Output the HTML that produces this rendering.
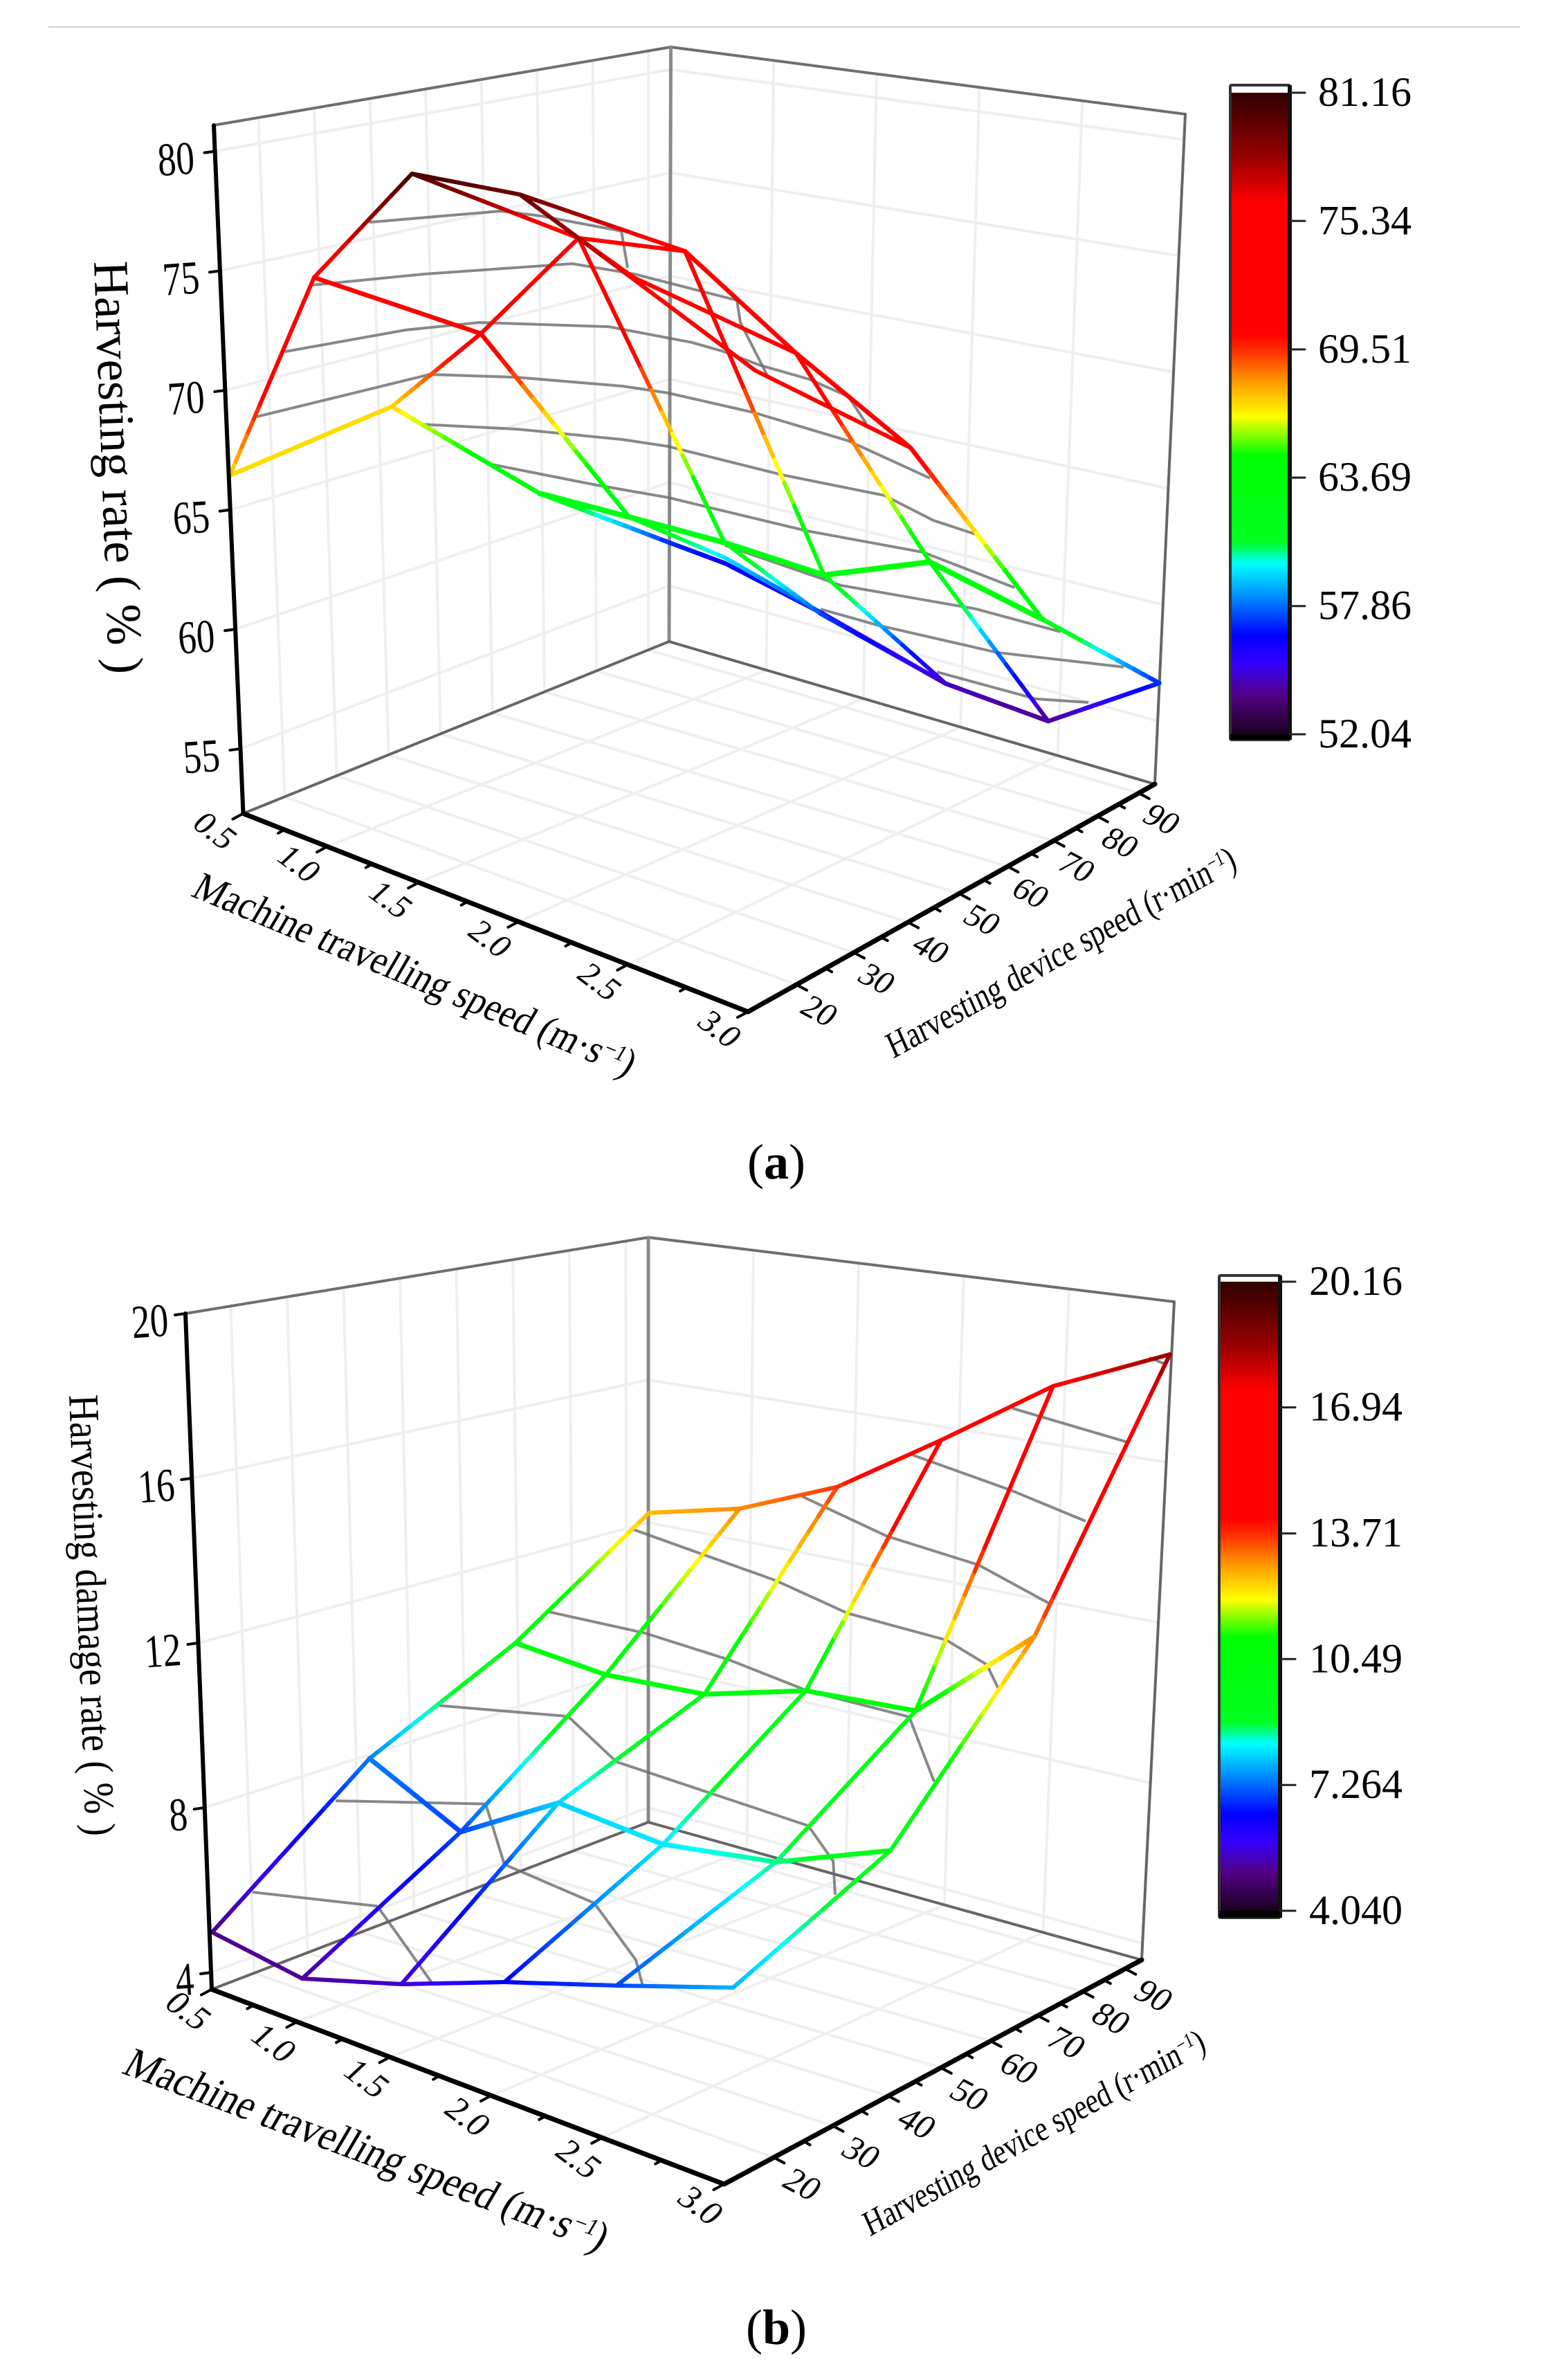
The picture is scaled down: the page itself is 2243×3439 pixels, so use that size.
<!DOCTYPE html>
<html lang="en">
<head>
<meta charset="utf-8">
<title>Harvesting rate and harvesting damage rate response surfaces</title>
<style>
html,body{margin:0;padding:0;background:#fff}
svg{display:block}
text{font-family:"Liberation Serif",serif;fill:#000}
</style>
</head>
<body>
<svg id="figure" xmlns="http://www.w3.org/2000/svg" width="2243" height="3439" viewBox="0 0 2243 3439">
  <rect x="0" y="0" width="2243" height="3439" fill="#fff"/>
  <line x1="70" y1="39" x2="2197" y2="39" stroke="#cfcfcf" stroke-width="2"/>
  <g id="chart-a"></g>
  <g id="chart-b"></g>

  <text transform="translate(136 378) rotate(87.9)" font-size="72" textLength="597" lengthAdjust="spacingAndGlyphs">Harvesting rate ( % )</text>
  <text transform="matrix(.924 .383 -.5 .85 274 1294)" font-size="60" textLength="684" lengthAdjust="spacingAndGlyphs">Machine travelling speed (m·s<tspan dy="-18" font-size="34">−1</tspan><tspan dy="18">)</tspan></text>
  <text transform="matrix(.875 -.484 .4 .9 1291 1530)" font-size="54" textLength="570" lengthAdjust="spacingAndGlyphs">Harvesting device speed (r·min<tspan dy="-16" font-size="30">−1</tspan><tspan dy="16">)</tspan></text>
  <text x="1122" y="1703" font-size="72" text-anchor="middle">(<tspan font-weight="bold">a</tspan>)</text>

  <text transform="translate(100 2016) rotate(87.8)" font-size="62" textLength="638" lengthAdjust="spacingAndGlyphs">Harvesting damage rate ( % )</text>
  <text transform="matrix(.937 .35 -.5 .85 174 2995)" font-size="64" textLength="738" lengthAdjust="spacingAndGlyphs">Machine travelling speed (m·s<tspan dy="-19" font-size="36">−1</tspan><tspan dy="19">)</tspan></text>
  <text transform="matrix(.875 -.484 .4 .9 1257 3232)" font-size="52" textLength="558" lengthAdjust="spacingAndGlyphs">Harvesting device speed (r·min<tspan dy="-16" font-size="30">−1</tspan><tspan dy="16">)</tspan></text>
  <text x="1122" y="3387" font-size="72" text-anchor="middle">(<tspan font-weight="bold">b</tspan>)</text>
</svg>

<script>
// ---- shared axis data ----
const speedTicks = [0.5, 1, 1.5, 2, 2.5, 3];
const speedTickLabels = ['0.5', '1.0', '1.5', '2.0', '2.5', '3.0'];
const speedMinorTicks = [0.75, 1.25, 1.75, 2.25, 2.75];
const deviceTicks = [20, 30, 40, 50, 60, 70, 80, 90];
const deviceTickLabels = ['20', '30', '40', '50', '60', '70', '80', '90'];
const deviceMinorTicks = [25, 35, 45, 55, 65, 75, 85];

// ---- chart (a): harvesting rate ----
const aRateTicks = [55, 60, 65, 70, 75, 80];
const aRateTickLabels = ['55', '60', '65', '70', '75', '80'];
const aColorbarValues = [81.16, 75.34, 69.51, 63.69, 57.86, 52.04];
const aColorbarLabels = ['81.16', '75.34', '69.51', '63.69', '57.86', '52.04'];

const aWireSpeed = [
  [0.851, 0.804, 1.017, 1.461, 2.126],
  [1.189, 1.384, 1.661],
  [2.126, 2.586, 3.084],
  [1.094, 1.691, 1.736, 2.126],
  [1.487, 2.18, 2.126],
  [2.093, 2.546, 2.586],
  [0.43, 0.492, 0.851],
  [0.553, 0.915, 1.189],
  [0.492, 0.915, 1.094],
  [0.43, 0.553, 0.95, 1.259, 1.487],
  [0.95, 1.094],
  [1.094, 1.487],
  [1.361, 1.495, 2.093],
  [1.259, 1.495, 2.01, 2.802],
  [1.487, 2.093, 2.802, 3.091, 3.084],
  [0.851, 1.189, 1.691, 2.18, 2.546, 3.091]
];
const aWireDevice = [
  [58.34, 81.99, 83.97, 85.26, 84.19],
  [62.11, 71.76, 78.6],
  [84.19, 86.09, 88.19],
  [56.76, 61.45, 76.1, 84.19],
  [61.6, 61.91, 84.19],
  [60.06, 67.53, 86.09],
  [20.24, 45.4, 58.34],
  [30.32, 46.31, 62.11],
  [45.4, 46.31, 56.76],
  [20.24, 30.32, 33.58, 41.4, 61.6],
  [33.58, 56.76],
  [56.76, 61.6],
  [47.88, 52.73, 60.06],
  [41.4, 43.44, 55.95, 55.77],
  [61.6, 60.06, 55.77, 68.36, 88.19],
  [58.34, 62.11, 61.45, 61.91, 67.53, 68.36]
];
const aWireRate = [
  [62.5, 57, 56.5, 55.5, 54.5],
  [62, 59.5, 57],
  [54.5, 54, 57],
  [75, 62.5, 57.5, 54.5],
  [75, 62.5, 54.5],
  [72.5, 63.5, 54],
  [67, 67, 62.5],
  [75, 71.5, 62],
  [67, 71.5, 75],
  [67, 75, 80.5, 79.5, 75],
  [80.5, 75],
  [75, 75],
  [77, 75, 72.5],
  [79.5, 78, 72, 71],
  [75, 72.5, 71, 62.5, 57],
  [62.5, 62, 62.5, 62.5, 63.5, 62.5]
];
const aWireWeight = [6.5, 6, 6.5, 6, 6, 6, 6.5, 6.5, 6, 6, 6, 6, 6, 6, 6.5, 8];

const aMeshSpeed = [
  [0.542, 1.206, 1.409, 1.815, 1.846],
  [0.556, 1.115, 1.867, 2.178, 2.699, 2.717, 2.857],
  [0.566, 1.175, 1.549, 2.203, 2.622, 2.773, 2.969, 3, 3, 3],
  [0.513, 1.387, 1.824, 2.363, 2.593, 3, 3, 3],
  [1.342, 1.824, 2.363, 2.593, 3, 3, 3, 3],
  [1.702, 2.216, 2.593, 3, 3, 3],
  [2.88, 3, 3, 3],
  [3, 3, 3, 3],
  [3, 3, 3]
];
const aMeshDevice = [
  [40, 40, 40, 40, 40],
  [30, 30, 30, 30, 30, 30, 30],
  [25, 25, 25, 25, 25, 25, 25, 32.21, 38.72, 41.74],
  [22, 22, 22, 22, 22, 22.79, 38.72, 52.44],
  [22, 22, 22, 22, 27.56, 44.77, 53.02, 60.12],
  [22, 22, 22, 31.63, 51.28, 66.63],
  [22, 37.56, 60.12, 74.42],
  [34.07, 43.49, 63.72, 85],
  [53.6, 70.23, 79.07]
];
const aMeshRate = [
  [76.19, 78.77, 79.18, 79.77, 78.21],
  [74.71, 76.95, 79.77, 80.28, 80.72, 79.77, 77.74],
  [72.39, 75.27, 76.78, 78.63, 79.23, 79.32, 79.28, 77.8, 76.17, 74.55],
  [69.68, 74.32, 75.56, 76.84, 77.25, 77.54, 74.17, 70.68],
  [71.93, 73.22, 74.43, 74.84, 74.1, 70.91, 68.7, 67.14],
  [71.24, 71.94, 72.53, 71.04, 67.49, 63.88],
  [71.27, 67.79, 63.77, 60.86],
  [67.18, 65.23, 61.33, 57.88],
  [61.78, 58.38, 57.06]
];

// ---- chart (b): harvesting damage rate ----
const bRateTicks = [4, 8, 12, 16, 20];
const bRateTickLabels = ['4', '8', '12', '16', '20'];
const bColorbarValues = [20.16, 16.94, 13.71, 10.49, 7.264, 4.04];
const bColorbarLabels = ['20.16', '16.94', '13.71', '10.49', '7.264', '4.040'];

const bSurfaceSpeed = [
  [0.387, 0.99, 1.385, 1.915, 2.383, 2.929],
  [0.329, 0.959, 1.302, 1.916, 2.452, 2.931],
  [0.656, 1.118, 1.526, 1.796, 2.363, 2.85],
  [0.855, 1.188, 1.479, 2.072, 2.372, 2.802]
];
const bSurfaceDevice = [
  [23.79, 18.72, 21.98, 21.45, 24.44, 25.59],
  [51.55, 45.77, 50.5, 47.43, 48.33, 51.36],
  [64.74, 64.34, 67.11, 74.85, 74.22, 77.66],
  [80.12, 84.02, 90.47, 87.97, 96.48, 101.51]
];
const bSurfaceRate = [
  [5, 5.2, 5.5, 6.5, 7, 7.8],
  [7.4, 7, 8, 8.2, 8.6, 9.5],
  [10, 10, 10, 10, 10.5, 13],
  [12.6, 13, 13.6, 16, 17.3, 18.5]
];

const bMeshSpeed = [
  [0.643, 1.26, 1.277, 1.539],
  [0.814, 1.562, 1.655, 2.103, 2.31, 2.345],
  [1.014, 1.669, 1.91, 2.866, 2.99, 3],
  [1.272, 1.748, 2.166, 2.559, 3, 3],
  [1.386, 2.097, 2.455, 2.948, 3, 3],
  [1.924, 2.348, 2.803, 3],
  [2.166, 2.659, 3],
  [2.517, 3],
  [2.988, 3]
];
const bMeshDevice = [
  [22, 22, 22, 22],
  [30, 30, 30, 30, 30, 30],
  [40, 40, 40, 40, 40, 40],
  [50, 50, 50, 50, 52.16, 56.25],
  [60, 60, 60, 60, 64.89, 66.82],
  [70, 70, 70, 75],
  [80, 80, 81.14],
  [85, 87.73],
  [92, 94.2]
];
const bMeshRate = [
  [6.6, 7.3, 7.24, 5.78],
  [8.68, 9.88, 8.48, 8.25, 7.14, 6.52],
  [10.77, 11.61, 10.85, 10.84, 10.14, 9.29],
  [12.91, 13.18, 13.21, 13.08, 13.01, 11.05],
  [14.52, 14.42, 14.19, 14.34, 13.45, 12.69],
  [15.58, 15.28, 15.32, 14.32],
  [16.36, 16.29, 15.99],
  [17.8, 17.57],
  [19.41, 19.11]
];

// ---- colour scale ----
const colorOffsets = [0, 0.06, 0.112, 0.154, 0.206, 0.266, 0.3, 0.435, 0.495, 0.554, 0.596, 0.624, 0.828, 0.905, 1];
const colorValues = ['#1a0020', '#520084', '#3400ff', '#0000ff', '#0078ff', '#00ffff', '#00ff20', '#00ff00', '#ffff00', '#ff9000', '#ff3000', '#ff0000', '#ff0000', '#900000', '#300000'];

function hexToRgb(h) {
  return [parseInt(h.slice(1, 3), 16), parseInt(h.slice(3, 5), 16), parseInt(h.slice(5, 7), 16)];
}
function colorAt(t) {
  const v = Math.max(0, Math.min(1, t));
  for (let i = 1; i < colorOffsets.length; i++) {
    if (v <= colorOffsets[i]) {
      const f = (v - colorOffsets[i - 1]) / (colorOffsets[i] - colorOffsets[i - 1]);
      const a = hexToRgb(colorValues[i - 1]);
      const b = hexToRgb(colorValues[i]);
      return 'rgb(' + a.map((c, k) => Math.round(c + (b[k] - c) * f)).join(',') + ')';
    }
  }
  return colorValues[colorValues.length - 1];
}

// ---- svg helpers ----
const SVG_NS = document.getElementById('figure').namespaceURI;
function svgEl(tag, parent, attrs) {
  const el = document.createElementNS(SVG_NS, tag);
  for (const k in attrs) el.setAttribute(k, attrs[k]);
  parent.appendChild(el);
  return el;
}
function drawLine(parent, a, b, stroke, width, name, cap) {
  const el = svgEl('line', parent, { x1: a[0], y1: a[1], x2: b[0], y2: b[1], stroke: stroke, 'stroke-width': width, 'stroke-linecap': cap || 'round' });
  
  
  return el;
}
function drawLabel(parent, content, transform, size, anchor, name) {
  const el = svgEl('text', parent, { transform: transform, 'font-size': size, 'text-anchor': anchor, dy: '.35em' });
  el.textContent = content;
  
  
  return el;
}
const lerp = (a, b, t) => [a[0] + (b[0] - a[0]) * t, a[1] + (b[1] - a[1]) * t];
const persp = (u, k) => u / (u + k * (1 - u));
const speedU = x => (x - 0.5) / 2.5;
const deviceU = y => (y - 12) / 82;

// ---- generic chart drawing ----
function drawChart(c) {
  const root = document.getElementById(c.id);
  const rateW = z => (z - c.zMin) / (c.zMax - c.zMin);
  const project = (x, y, z) => [
    c.ox + c.xx * (x - 0.5) + c.xy * (y - 20),
    c.oy + c.yx * (x - 0.5) - c.yy * (y - 20) - c.k * (z - c.z0)
  ];
  const speedAxis = x => lerp(c.L, c.F, persp(speedU(x), 1.25));
  const deviceAxis = y => lerp(c.F, c.R, persp(deviceU(y), 0.8));
  const rateAxis = z => lerp(c.L, c.Lt, rateW(z));

  // faint wall and floor grid
  const grid = svgEl('g', root, { opacity: 1 });
  
  
  const gridColor = '#efefef';
  deviceTicks.forEach(y => {
    const u = deviceU(y);
    drawLine(grid, lerp(c.L, c.B, u), lerp(c.Lt, c.Bt, u), gridColor, 4, 'left-wall-gridline');
    drawLine(grid, lerp(c.L, c.B, u), deviceAxis(y), gridColor, 4, 'floor-gridline');
  });
  speedTicks.slice(1, -1).forEach(x => {
    const u = speedU(x);
    drawLine(grid, lerp(c.B, c.R, u), lerp(c.Bt, c.Rt, u), gridColor, 4, 'right-wall-gridline');
    drawLine(grid, speedAxis(x), lerp(c.B, c.R, u), gridColor, 4, 'floor-gridline');
  });
  c.rateTicks.forEach(z => {
    const w = rateW(z);
    drawLine(grid, lerp(c.L, c.Lt, w), lerp(c.B, c.Bt, w), gridColor, 4, 'left-wall-gridline');
    drawLine(grid, lerp(c.B, c.Bt, w), lerp(c.R, c.Rt, w), gridColor, 4, 'right-wall-gridline');
  });

  // box frame
  const frame = svgEl('g', root, {});
  
  
  drawLine(frame, c.Lt, c.Bt, '#6e6e6e', 4, 'frame-top-left-edge');
  drawLine(frame, c.Bt, c.Rt, '#6e6e6e', 4, 'frame-top-right-edge');
  drawLine(frame, c.B, c.Bt, '#8a8a8a', 5, 'frame-back-vertical');
  drawLine(frame, c.R, c.Rt, '#666', 4, 'frame-right-vertical');
  drawLine(frame, c.L, c.B, '#666', 4, 'frame-floor-left-edge');
  drawLine(frame, c.B, c.R, '#666', 4, 'frame-floor-right-edge');

  // grey hidden mesh
  const mesh = svgEl('g', root, {});
  
  
  c.meshSpeed.forEach((speeds, i) => {
    const pts = speeds.map((x, j) => project(x, c.meshDevice[i][j], c.meshRate[i][j]).join(',')).join(' ');
    const el = svgEl('polyline', mesh, { points: pts, fill: 'none', stroke: '#6a6a6a', 'stroke-width': 4, 'stroke-linejoin': 'round', opacity: 0.8 });
    
    
  });

  // coloured wires
  const wires = svgEl('g', root, {});
  
  
  const colorT = z => (z - c.vMin) / (c.vMax - c.vMin);
  c.wires.forEach(w => {
    const wire = svgEl('g', wires, {});
    
    
    for (let i = 0; i + 1 < w.speed.length; i++) {
      const a = project(w.speed[i], w.device[i], w.rate[i]);
      const b = project(w.speed[i + 1], w.device[i + 1], w.rate[i + 1]);
      const pieces = 14;
      for (let s = 0; s < pieces; s++) {
        const t0 = s / pieces, t1 = (s + 1) / pieces;
        const z = w.rate[i] + (w.rate[i + 1] - w.rate[i]) * (t0 + t1) / 2;
        drawLine(wire, lerp(a, b, t0), lerp(a, b, t1), colorAt(colorT(z)), w.weight, 'wire-segment');
      }
    }
  });

  // black axes
  const axes = svgEl('g', root, {});
  
  
  drawLine(axes, c.L, c.Lt, '#000', 6, 'z-axis-line');
  drawLine(axes, c.L, c.F, '#000', 7, 'x-axis-line');
  drawLine(axes, c.F, c.R, '#000', 7, 'y-axis-line');

  speedTicks.forEach((x, i) => {
    const p = speedAxis(x);
    drawLine(axes, p, [p[0] - 15, p[1] + 8], '#000', 4, 'x-axis-tick');
    drawLabel(axes, speedTickLabels[i], 'translate(' + (p[0] + c.xLabelDx) + ' ' + (p[1] + c.xLabelDy) + ') rotate(37) skewX(-10)', c.tickFont, 'middle', 'x-axis-tick-label');
  });
  speedMinorTicks.forEach(x => {
    const p = speedAxis(x);
    drawLine(axes, p, [p[0] - 9, p[1] + 5], '#000', 4, 'x-axis-minor-tick');
  });
  deviceTicks.forEach((y, i) => {
    const p = deviceAxis(y);
    drawLine(axes, p, [p[0] + 15, p[1] + 8], '#000', 4, 'y-axis-tick');
    drawLabel(axes, deviceTickLabels[i], 'translate(' + (p[0] + c.yLabelDx) + ' ' + (p[1] + c.yLabelDy) + ') rotate(28) skewX(-10)', c.tickFont, 'middle', 'y-axis-tick-label');
  });
  deviceMinorTicks.forEach(y => {
    const p = deviceAxis(y);
    drawLine(axes, p, [p[0] + 9, p[1] + 5], '#000', 4, 'y-axis-minor-tick');
  });
  c.rateTicks.forEach((z, i) => {
    const p = rateAxis(z);
    drawLine(axes, p, [p[0] - 15, p[1] + 2], '#000', 4, 'z-axis-tick');
    drawLabel(axes, c.rateLabels[i], 'translate(' + (p[0] + c.zLabelDx) + ' ' + (p[1] + c.zLabelDy) + ') rotate(-4) scale(.78 1)', 68, 'end', 'z-axis-tick-label');
  });

  // colour bar
  const cb = c.bar;
  const bar = svgEl('g', root, {});
  
  
  const defs = svgEl('defs', bar, {});
  const grad = svgEl('linearGradient', defs, { id: c.id + '-gradient', x1: 0, y1: 0, x2: 0, y2: 1 });
  colorOffsets.forEach((o, i) => {
    svgEl('stop', grad, { offset: 1 - o, 'stop-color': colorValues[i] });
  });
  Array.from(grad.children).reverse().forEach(s => grad.appendChild(s));
  const frameRect = svgEl('rect', bar, { x: cb.x, y: cb.top, width: cb.w, height: cb.bottom - cb.top, fill: '#fff', stroke: '#333', 'stroke-width': 4, rx: 2 });
  
  
  const fillRect = svgEl('rect', bar, { x: cb.x + 2, y: cb.maxY, width: cb.w - 4, height: cb.minY - cb.maxY, fill: 'url(#' + c.id + '-gradient)' });
  
  
  drawLine(bar, [cb.x + cb.w, cb.top], [cb.x + cb.w, cb.bottom], '#111', 6, 'colorbar-right-edge', 'butt');
  const foot = svgEl('rect', bar, { x: cb.x, y: cb.minY, width: cb.w, height: cb.bottom - cb.minY, fill: '#000' });
  
  
  const barY = v => cb.minY + (cb.maxY - cb.minY) * (v - c.vMin) / (c.vMax - c.vMin);
  c.barValues.forEach((v, i) => {
    const y = barY(v);
    drawLine(bar, [cb.x + cb.w, y], [cb.x + cb.w + 22, y], '#222', 3, 'colorbar-tick');
    drawLabel(bar, c.barLabels[i], 'translate(' + cb.labelX + ' ' + (y - 2) + ')', 60, 'start', 'colorbar-label');
  });
}

const aWires = aWireSpeed.map((s, i) => ({ speed: s, device: aWireDevice[i], rate: aWireRate[i], weight: aWireWeight[i] }));
const bWires = [];
bSurfaceSpeed[0].forEach((_, j) => {
  bWires.push({
    speed: bSurfaceSpeed.map(r => r[j]),
    device: bSurfaceDevice.map(r => r[j]),
    rate: bSurfaceRate.map(r => r[j]),
    weight: 6
  });
});
bSurfaceSpeed.forEach((r, i) => {
  bWires.push({ speed: r, device: bSurfaceDevice[i], rate: bSurfaceRate[i], weight: (i === 1 || i === 2) ? 7 : 6 });
});

drawChart({
  id: 'chart-a',
  L: [351.5, 1175.5], F: [1081, 1462], R: [1669, 1133], B: [967, 927],
  Lt: [309, 181], Bt: [969.5, 68], Rt: [1713, 165],
  zMin: 52.29, zMax: 81.09,
  ox: 350, oy: 1175, xx: 286, xy: 8.6, yx: 100, yy: 4.2, k: 32, z0: 52,
  vMin: 52.04, vMax: 81.16,
  rateTicks: aRateTicks, rateLabels: aRateTickLabels,
  meshSpeed: aMeshSpeed, meshDevice: aMeshDevice, meshRate: aMeshRate,
  wires: aWires,
  tickFont: 48,
  xLabelDx: -40, xLabelDy: 24, yLabelDx: 34, yLabelDy: 37, zLabelDx: -30, zLabelDy: 8,
  barValues: aColorbarValues, barLabels: aColorbarLabels,
  bar: { x: 1778, w: 86, top: 123, bottom: 1069, maxY: 134, minY: 1061, labelX: 1905 }
});

drawChart({
  id: 'chart-b',
  L: [306, 2874.5], F: [1046.5, 3156], R: [1650, 2832], B: [937, 2633],
  Lt: [268, 1898], Bt: [937, 1788], Rt: [1697, 1881],
  zMin: 3.59, zMax: 20,
  ox: 306, oy: 2874, xx: 290, xy: 8.8, yx: 96, yy: 4, k: 56, z0: 4,
  vMin: 4.04, vMax: 20.16,
  rateTicks: bRateTicks, rateLabels: bRateTickLabels,
  meshSpeed: bMeshSpeed, meshDevice: bMeshDevice, meshRate: bMeshRate,
  wires: bWires,
  tickFont: 50,
  xLabelDx: -33, xLabelDy: 30, yLabelDx: 42, yLabelDy: 38, zLabelDx: -25, zLabelDy: 8,
  barValues: bColorbarValues, barLabels: bColorbarLabels,
  bar: { x: 1762, w: 88, top: 1843, bottom: 2771, maxY: 1852, minY: 2761, labelX: 1892 }
});
</script>
</body>
</html>
